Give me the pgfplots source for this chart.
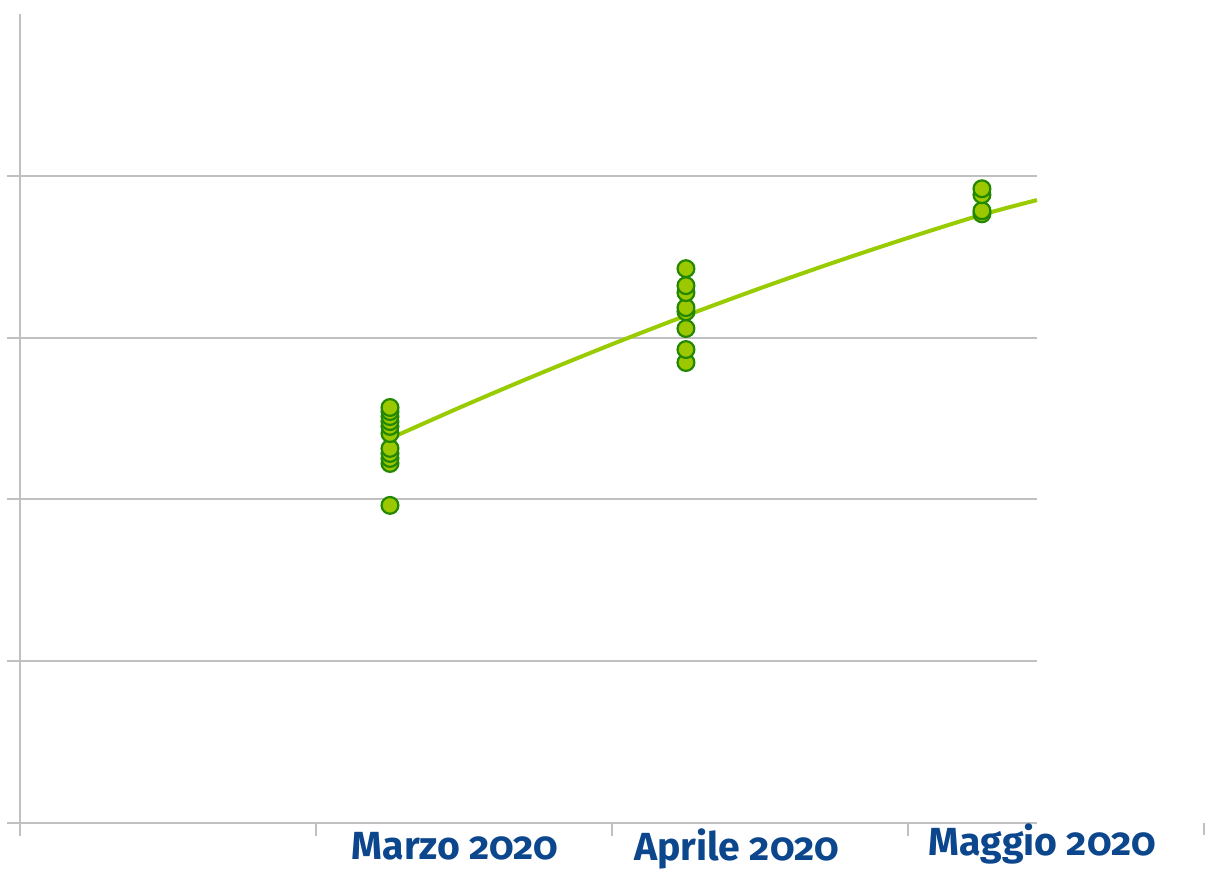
\documentclass[border=0pt]{standalone}
\usepackage{fontspec}
\setmainfont{Fira Sans}[Numbers=OldStyle]
\usepackage{pgfplots}
\pgfplotsset{compat=1.18}
\definecolor{gridgray}{RGB}{192,192,192}
\definecolor{trendgreen}{RGB}{153,204,0}
\definecolor{markfill}{RGB}{155,200,0}
\definecolor{markedge}{RGB}{35,135,0}
\definecolor{labelblue}{RGB}{12,70,140}
\begin{document}
\begin{tikzpicture}
\begin{axis}[
  scale only axis,
  width=508.5pt, height=404.5pt,
  xmin=0, xmax=3.436, ymin=0, ymax=5,
  axis x line*=bottom, axis y line*=left,
  axis line style={gridgray, line width=1pt},
  xtick={0,1,2,3}, ytick={0,1,2,3,4},
  xticklabels={}, yticklabels={},
  tick align=outside,
  major tick length=6.5pt,
  tick style={gridgray, line width=1pt},
  ymajorgrids,
  grid style={gridgray, line width=1pt},
  clip=false,
]
\addplot[trendgreen, line width=2pt, smooth, no marks] coordinates {
  (1.25,2.3765) (1.5,2.5791) (1.75,2.7731) (2.0,2.9587) (2.25,3.1358)
  (2.5,3.3044) (2.75,3.4645) (3.0,3.6161) (3.25,3.7593) (3.436,3.850)
};
\addplot[only marks, mark=*, mark size=4.2pt,
  mark options={fill=markfill, draw=markedge, line width=1.1pt}] coordinates {
  (1.25,1.963) (1.25,2.222) (1.25,2.253) (1.25,2.284) (1.25,2.315)
  (1.25,2.407) (1.25,2.451) (1.25,2.481) (1.25,2.512) (1.25,2.543) (1.25,2.568)
  (2.25,2.846) (2.25,2.926) (2.25,3.056) (2.25,3.160) (2.25,3.185)
  (2.25,3.278) (2.25,3.321) (2.25,3.426)
  (3.25,3.765) (3.25,3.784) (3.25,3.883) (3.25,3.920)
};
\draw[gridgray, line width=1pt] (axis cs:4,0) -- ++(0,-6pt);
\node[anchor=base, font=\fontsize{19.6}{22}\selectfont\bfseries, text=labelblue, inner sep=0pt]
  at ([yshift=-18.5pt]axis cs:1.470,0) {Marzo 2020};
\node[anchor=base, font=\fontsize{19.6}{22}\selectfont\bfseries, text=labelblue, inner sep=0pt]
  at ([yshift=-19pt]axis cs:2.421,0) {Aprile 2020};
\node[anchor=base, font=\fontsize{19.6}{22}\selectfont\bfseries, text=labelblue, inner sep=0pt]
  at ([yshift=-16.5pt]axis cs:3.454,0) {Maggio 2020};
\coordinate (bbl) at (rel axis cs:-0.01967,-0.05686);
\coordinate (btr) at (rel axis cs:1.16618,1.01731);
\end{axis}
\pgfresetboundingbox
\path (bbl) rectangle (btr);
\end{tikzpicture}
\end{document}
